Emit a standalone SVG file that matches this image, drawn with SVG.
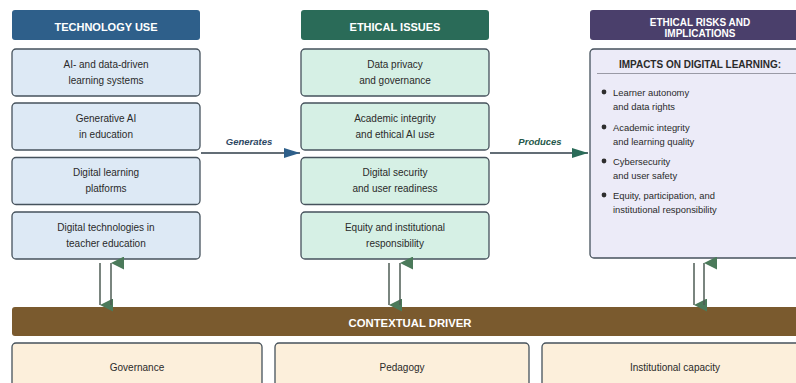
<svg xmlns="http://www.w3.org/2000/svg" width="796" height="383" viewBox="0 0 796 383">
  <defs>
    <style>
      text { font-family: "Liberation Sans", Arial, sans-serif; }
      .hdr { fill: #ffffff; font-weight: bold; font-size: 11px; text-anchor: middle; }
      .hdr-sm { fill: #ffffff; font-weight: bold; font-size: 10px; text-anchor: middle; }
      .box { stroke: #46525c; stroke-width: 1.3; }
      .tech { fill: #dde9f5; }
      .eth { fill: #d6f0e5; }
      .risk { fill: #ecebf8; }
      .ctx { fill: #fcefdb; }
      .lbl { fill: #2a2a2a; font-size: 10px; text-anchor: middle; }
      .bul { fill: #2a2a2a; font-size: 9.4px; }
      .dot { fill: #2e2e2e; }
      .edge-lbl { font-weight: bold; font-style: italic; font-size: 9.5px; text-anchor: middle; }
      .flow { fill: none; stroke: #2f3d48; stroke-width: 1.6; }
      .loop { fill: none; stroke: #4e5d54; stroke-width: 1.5; }
    </style>
    <marker id="head-blue" viewBox="0 0 16 10" refX="16" refY="5" markerWidth="16" markerHeight="10" markerUnits="userSpaceOnUse" orient="auto">
      <path d="M0,0 L16,5 L0,10 z" fill="#2e5f8a"/>
    </marker>
    <marker id="head-green" viewBox="0 0 16 10" refX="16" refY="5" markerWidth="16" markerHeight="10" markerUnits="userSpaceOnUse" orient="auto">
      <path d="M0,0 L16,5 L0,10 z" fill="#2a6b58"/>
    </marker>
    <marker id="head-left" viewBox="0 0 13 13" refX="13" refY="6.5" markerWidth="13" markerHeight="13" markerUnits="userSpaceOnUse" orient="180">
      <path d="M0,0 L13,6.5 L0,13 z" fill="#4b7a5a"/>
    </marker>
  </defs>

  <rect width="796" height="383" fill="#ffffff"/>

  <!-- Column: technology use -->
  <g id="technology-use-header">
    <rect x="12" y="10" width="188" height="30" rx="3" fill="#2e5f8a"/>
    <text class="hdr" x="106" y="31">TECHNOLOGY USE</text>
  </g>
  <g id="tech-ai-data">
    <rect class="box tech" x="12" y="49" width="188" height="47" rx="4"/>
    <text class="lbl" x="106" y="67.5">AI- and data-driven</text>
    <text class="lbl" x="106" y="83.5">learning systems</text>
  </g>
  <g id="tech-generative">
    <rect class="box tech" x="12" y="103" width="188" height="47" rx="4"/>
    <text class="lbl" x="106" y="121.5">Generative AI</text>
    <text class="lbl" x="106" y="137.5">in education</text>
  </g>
  <g id="tech-platforms">
    <rect class="box tech" x="12" y="157.5" width="188" height="47" rx="4"/>
    <text class="lbl" x="106" y="176">Digital learning</text>
    <text class="lbl" x="106" y="192">platforms</text>
  </g>
  <g id="tech-teacher-ed">
    <rect class="box tech" x="12" y="212" width="188" height="47" rx="4"/>
    <text class="lbl" x="106" y="230.5">Digital technologies in</text>
    <text class="lbl" x="106" y="246.5">teacher education</text>
  </g>

  <!-- Column: ethical issues -->
  <g id="ethical-issues-header">
    <rect x="301" y="10" width="188" height="30" rx="3" fill="#2a6b58"/>
    <text class="hdr" x="395" y="31">ETHICAL ISSUES</text>
  </g>
  <g id="eth-privacy">
    <rect class="box eth" x="301" y="49" width="188" height="47" rx="4"/>
    <text class="lbl" x="395" y="67.5">Data privacy</text>
    <text class="lbl" x="395" y="83.5">and governance</text>
  </g>
  <g id="eth-integrity">
    <rect class="box eth" x="301" y="103" width="188" height="47" rx="4"/>
    <text class="lbl" x="395" y="121.5">Academic integrity</text>
    <text class="lbl" x="395" y="137.5">and ethical AI use</text>
  </g>
  <g id="eth-security">
    <rect class="box eth" x="301" y="157.5" width="188" height="47" rx="4"/>
    <text class="lbl" x="395" y="176">Digital security</text>
    <text class="lbl" x="395" y="192">and user readiness</text>
  </g>
  <g id="eth-equity">
    <rect class="box eth" x="301" y="212" width="188" height="47" rx="4"/>
    <text class="lbl" x="395" y="230.5">Equity and institutional</text>
    <text class="lbl" x="395" y="246.5">responsibility</text>
  </g>

  <!-- Column: ethical risks and implications -->
  <g id="risks-header">
    <rect x="590" y="10" width="220" height="30" rx="3" fill="#4a3f6b"/>
    <text class="hdr-sm" x="700" y="25.5">ETHICAL RISKS AND</text>
    <text class="hdr-sm" x="700" y="36.5">IMPLICATIONS</text>
  </g>
  <g id="risks-impacts">
    <rect class="box risk" x="590" y="49" width="220" height="209" rx="4"/>
    <text x="700" y="68" font-weight="bold" font-size="10px" fill="#2a2a2a" text-anchor="middle">IMPACTS ON DIGITAL LEARNING:</text>
    <line x1="597" y1="73.5" x2="804" y2="73.5" stroke="#9a9aa6" stroke-width="1"/>
    <circle class="dot" cx="604" cy="92" r="2.4"/>
    <text class="bul" x="613" y="95.5">Learner autonomy</text>
    <text class="bul" x="613" y="109.5">and data rights</text>
    <circle class="dot" cx="604" cy="127" r="2.4"/>
    <text class="bul" x="613" y="130.5">Academic integrity</text>
    <text class="bul" x="613" y="144.5">and learning quality</text>
    <circle class="dot" cx="604" cy="161" r="2.4"/>
    <text class="bul" x="613" y="164.5">Cybersecurity</text>
    <text class="bul" x="613" y="178.5">and user safety</text>
    <circle class="dot" cx="604" cy="195" r="2.4"/>
    <text class="bul" x="613" y="198.5">Equity, participation, and</text>
    <text class="bul" x="613" y="212.5">institutional responsibility</text>
  </g>

  <!-- Contextual driver band and its factors -->
  <g id="contextual-driver">
    <rect x="12" y="307" width="796" height="29" rx="3" fill="#7a5a2e"/>
    <text x="410" y="326.5" font-weight="bold" font-size="11.3px" fill="#ffffff" text-anchor="middle">CONTEXTUAL DRIVER</text>
  </g>
  <g id="ctx-governance">
    <rect class="box ctx" x="12" y="343" width="250" height="52" rx="4"/>
    <text class="lbl" x="137" y="370.5">Governance</text>
  </g>
  <g id="ctx-pedagogy">
    <rect class="box ctx" x="275" y="343" width="254" height="52" rx="4"/>
    <text class="lbl" x="402" y="370.5">Pedagogy</text>
  </g>
  <g id="ctx-capacity">
    <rect class="box ctx" x="542" y="343" width="266" height="52" rx="4"/>
    <text class="lbl" x="675" y="370.5">Institutional capacity</text>
  </g>

  <!-- Connectors -->
  <g id="connectors">
    <path class="flow" d="M201,153 H300" marker-end="url(#head-blue)"/>
    <text class="edge-lbl" x="249" y="145" fill="#2c4763">Generates</text>
    <path class="flow" d="M490,153 H588" marker-end="url(#head-green)"/>
    <text class="edge-lbl" x="540" y="145" fill="#25584a">Produces</text>

    <path class="loop" d="M100,263 V305" marker-end="url(#head-left)"/>
    <path class="loop" d="M111,305 V263" marker-end="url(#head-left)"/>
    <path class="loop" d="M389,263 V305" marker-end="url(#head-left)"/>
    <path class="loop" d="M400,305 V263" marker-end="url(#head-left)"/>
    <path class="loop" d="M694,263 V305" marker-end="url(#head-left)"/>
    <path class="loop" d="M704,305 V263" marker-end="url(#head-left)"/>
  </g>
</svg>
